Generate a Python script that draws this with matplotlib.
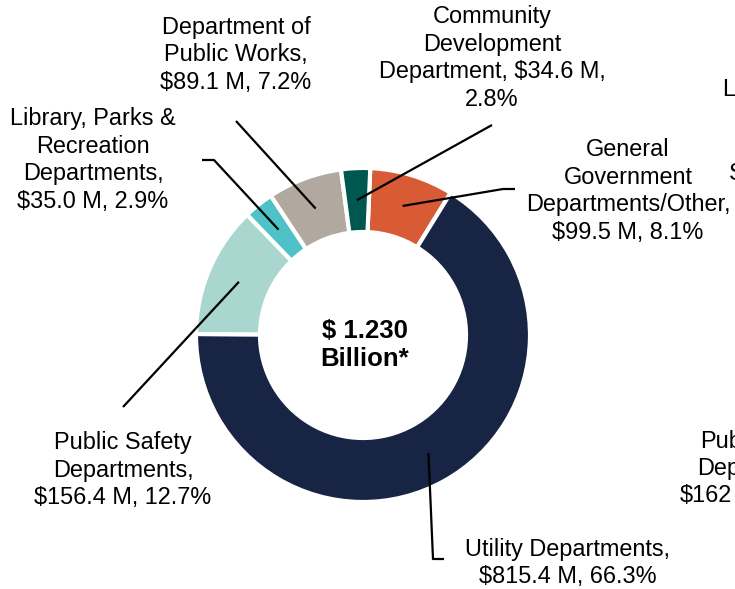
import numpy as np
import matplotlib
matplotlib.use("Agg")
import matplotlib.pyplot as plt

plt.rcParams['font.family'] = ['Liberation Sans', 'DejaVu Sans']

categories = ["General Government Departments/Other", "Utility Departments",
              "Public Safety Departments", "Library, Parks & Recreation Departments",
              "Department of Public Works", "Community Development Department"]
amounts = [99.5, 815.4, 156.4, 35.0, 89.1, 34.6]
shares = [8.1, 66.3, 12.7, 2.9, 7.2, 2.8]
colors = ["#D95B35", "#172443", "#A9D6CF", "#4FC2C8", "#B1A9A0", "#00574F"]
labels = [
    "General\nGovernment\nDepartments/Other,\n$99.5 M, 8.1%",
    "Utility Departments,\n$815.4 M, 66.3%",
    "Public Safety\nDepartments,\n$156.4 M, 12.7%",
    "Library, Parks &\nRecreation\nDepartments,\n$35.0 M, 2.9%",
    "Department of\nPublic Works,\n$89.1 M, 7.2%",
    "Community\nDevelopment\nDepartment, $34.6 M,\n2.8%",
]
total_text = "$ 1.230\nBillion*"

W, H = 735, 589
fig = plt.figure(figsize=(W / 100, H / 100), dpi=100)
ax = fig.add_axes([0, 0, 1, 1])

def py(y):
    # pixel row -> data y
    return H - y

FS = 16.9
cx, cy, R, ring = 363, py(335), 167, 64
wedges, _ = ax.pie(shares, colors=colors, startangle=87.5, counterclock=False,
                   center=(cx, cy), radius=R,
                   wedgeprops=dict(width=ring, edgecolor="white", linewidth=3))
ax.set_xlim(0, W)
ax.set_ylim(0, H)
ax.axis("off")

ax.text(cx + 2, py(345), total_text, ha="center", va="center", fontsize=18.5,
        fontweight="bold", linespacing=1.2)

# label text centre, and leader points (label end first), in pixels
label_pos = [(628, 191), (568, 563), (123, 470), (93, 160), (236, 55), (492, 58)]
leaders = [
    [(515, 189), (503, 189)],
    [(444, 559), (433, 559)],
    [(123, 407)],
    [(202, 160), (214, 160)],
    [(236, 121)],
    [(492, 125)],
]

r_mid = R - ring / 2
for w, lab, (lx, ly), pts in zip(wedges, labels, label_pos, leaders):
    ang = np.deg2rad((w.theta1 + w.theta2) / 2)
    ax_, ay_ = cx + r_mid * np.cos(ang), cy + r_mid * np.sin(ang)
    xs = [p[0] for p in pts] + [ax_]
    ys = [py(p[1]) for p in pts] + [ay_]
    ax.plot(xs, ys, color="black", lw=1.6, solid_capstyle="butt")
    ax.text(lx, py(ly), lab, ha="center", va="center", fontsize=FS,
            linespacing=1.26)

# partially visible labels of a neighbouring chart at the right edge
ax.text(722, py(90), "L", ha="left", va="center", fontsize=FS)
ax.text(729, py(173), "S", ha="left", va="center", fontsize=FS)
ax.text(700, py(441), "Pub", ha="left", va="center", fontsize=FS)
ax.text(697, py(468), "Dep", ha="left", va="center", fontsize=FS)
ax.text(680, py(495), "$162", ha="left", va="center", fontsize=FS)

fig.savefig("out.png", dpi=100)
